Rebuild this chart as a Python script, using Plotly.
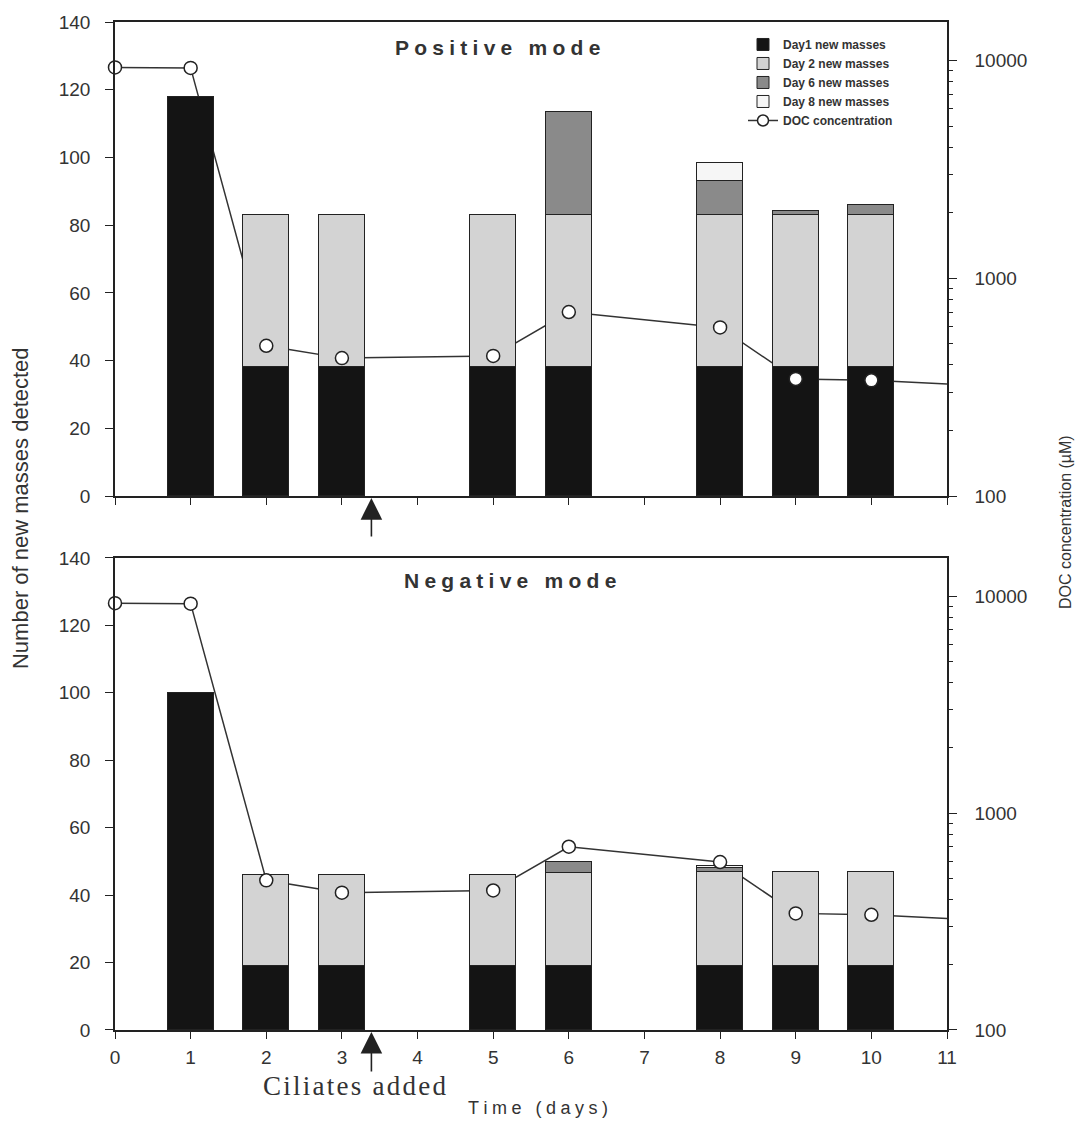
import plotly.graph_objects as go

# ---------------- data ----------------
days_bar = [1, 2, 3, 5, 6, 8, 9, 10]

pos_day1 = [118, 38, 38, 38, 38, 38, 38, 38]
pos_day2 = [None, 45, 45, 45, 45, 45, 45, 45]
pos_day6 = [None, None, None, None, 30.5, 10, 1.2, 3]
pos_day8 = [None, None, None, None, None, 5.5, None, None]

neg_day1 = [100, 19, 19, 19, 19, 19, 19, 19]
neg_day2 = [None, 27, 27, 27, 27.5, 28, 28, 28]
neg_day6 = [None, None, None, None, 3.2, 1.2, None, None]
neg_day8 = [None, None, None, None, None, 0.6, None, None]

days_doc = [0, 1, 2, 3, 5, 6, 8, 9, 10, 11]
doc_conc = [9300, 9250, 490, 430, 440, 700, 595, 345, 340, 327]
doc_has_marker = [1, 1, 1, 1, 1, 1, 1, 1, 1, 0]

series_names = ["Day1 new masses", "Day 2 new masses", "Day 6 new masses", "Day 8 new masses"]
series_colors = ["#141414", "#d3d3d3", "#8a8a8a", "#f6f6f6"]

x_ticks = list(range(0, 12))
left_ticks = list(range(0, 141, 20))
right_ticks = [100, 1000, 10000]
right_minor = [200, 300, 400, 500, 600, 700, 800, 900,
               2000, 3000, 4000, 5000, 6000, 7000, 8000, 9000]

# ---------------- figure ----------------
SANS = "Liberation Sans, Arial, sans-serif"
INK = "#222222"
TXT = "#333333"
LOG_RANGE = [2, 4.177]

fig = go.Figure()

panels = [
    dict(vals=[pos_day1, pos_day2, pos_day6, pos_day8], xa="x", ybase="y", ybar="y2", ymark="y3", legend=True),
    dict(vals=[neg_day1, neg_day2, neg_day6, neg_day8], xa="x2", ybase="y4", ybar="y5", ymark="y6", legend=False),
]

for p in panels:
    for name, color, vals in zip(series_names, series_colors, p["vals"]):
        fig.add_trace(go.Bar(
            x=days_bar, y=vals, name=name, width=0.61,
            marker=dict(color=color, line=dict(color=INK, width=1)),
            xaxis=p["xa"], yaxis=p["ybar"], showlegend=p["legend"],
            legendgroup=name,
        ))
    # line drawn on the base (bottom) layer so it passes behind the bars
    fig.add_trace(go.Scatter(
        x=days_doc, y=doc_conc, mode="lines",
        line=dict(color="#333333", width=1.5),
        xaxis=p["xa"], yaxis=p["ybase"], showlegend=False, cliponaxis=False,
    ))
    # markers on the top layer
    fig.add_trace(go.Scatter(
        x=days_doc, y=doc_conc, mode="markers",
        marker=dict(symbol="circle", size=[13 * m for m in doc_has_marker], color="white",
                    opacity=1, line=dict(color="#222222", width=1.5)),
        xaxis=p["xa"], yaxis=p["ymark"], showlegend=False, cliponaxis=False,
    ))

# legend entry for DOC concentration
fig.add_trace(go.Scatter(
    x=[None], y=[None], mode="lines+markers", name="DOC concentration",
    line=dict(color="#333333", width=1.5),
    marker=dict(symbol="circle", size=11, color="white", opacity=1,
                line=dict(color="#222222", width=1.5)),
    xaxis="x", yaxis="y3", showlegend=True,
))

top_dom = [(1030 - 495) / 1010, 1.0]
bot_dom = [0.0, (1030 - 557) / 1010]

xcommon = dict(range=[0, 11], tickmode="array", tickvals=x_ticks, ticks="outside", ticklen=7,
               tickcolor=INK, showline=True, linecolor=INK, linewidth=1.5, mirror=True,
               showgrid=False, zeroline=False)
logcommon = dict(type="log", range=LOG_RANGE, side="right", tickmode="array", tickvals=right_ticks,
                 ticktext=[str(v) for v in right_ticks], ticks="outside", ticklen=8, tickcolor=INK,
                 showline=True, linecolor=INK, linewidth=1.5, showgrid=False, zeroline=False,
                 ticklabelstandoff=14,
                 tickfont=dict(family=SANS, size=19, color=TXT),
                 minor=dict(tickmode="array", tickvals=right_minor, ticks="outside", ticklen=4,
                            tickcolor=INK, showgrid=False))
lincommon = dict(range=[0, 140], tickmode="array", tickvals=left_ticks, ticks="outside", ticklen=8,
                 tickcolor=INK, showline=True, linecolor=INK, linewidth=1.5, showgrid=False,
                 zeroline=False, side="left", ticklabelstandoff=11,
                 tickfont=dict(family=SANS, size=19, color=TXT))
hidden = dict(type="log", range=LOG_RANGE, visible=False, showgrid=False, zeroline=False)

fig.update_layout(
    width=1075, height=1121,
    margin=dict(l=115, r=128, t=20, b=91),
    paper_bgcolor="white", plot_bgcolor="rgba(0,0,0,0)",
    barmode="stack", bargap=0,
    font=dict(family=SANS, color=INK),
    xaxis=dict(xcommon, anchor="y", showticklabels=False, domain=[0, 1]),
    xaxis2=dict(xcommon, anchor="y4", showticklabels=True, domain=[0, 1],
                ticklabelstandoff=2,
                tickfont=dict(family=SANS, size=19, color=TXT)),
    yaxis=dict(logcommon, domain=top_dom, anchor="x"),
    yaxis2=dict(lincommon, overlaying="y", anchor="x"),
    yaxis3=dict(hidden, overlaying="y", anchor="x"),
    yaxis4=dict(logcommon, domain=bot_dom, anchor="x2"),
    yaxis5=dict(lincommon, overlaying="y4", anchor="x2"),
    yaxis6=dict(hidden, overlaying="y4", anchor="x2"),
    legend=dict(x=(743 - 115) / 832, y=(1030 - 28) / 1010, xanchor="left", yanchor="top",
                traceorder="normal", bgcolor="rgba(0,0,0,0)", borderwidth=0,
                font=dict(family=SANS, size=12, color=TXT, weight="bold"),
                itemwidth=30, tracegroupgap=0),
    showlegend=True,
)

def spaced(s, gap):
    return gap.join(list(s))

annotations = [
    dict(text="<b>" + spaced("Positive mode", "\u2005") + "</b>", xref="paper", yref="paper",
         x=(497 - 115) / 832, y=(1030 - 46) / 1010, xanchor="center", yanchor="middle",
         showarrow=False, font=dict(family=SANS, size=21, color=TXT)),
    dict(text="<b>" + spaced("Negative mode", "\u2005") + "</b>", xref="paper", yref="paper",
         x=(510 - 115) / 832, y=(1030 - 580) / 1010, xanchor="center", yanchor="middle",
         showarrow=False, font=dict(family=SANS, size=21, color=TXT)),
    dict(text="Number of new masses detected", xref="paper", yref="paper",
         x=(20 - 115) / 832, y=(1030 - 507) / 1010, xanchor="center", yanchor="middle",
         textangle=-90, showarrow=False, font=dict(family=SANS, size=22, color=TXT)),
    dict(text="DOC concentration (\u00b5M)", xref="paper", yref="paper",
         x=(1065 - 115) / 832, y=(1030 - 521) / 1010, xanchor="center", yanchor="middle",
         textangle=-90, showarrow=False, font=dict(family=SANS, size=16, color=TXT)),
    dict(text=spaced("Ciliates added", "\u200a"), xref="paper", yref="paper",
         x=(355 - 115) / 832, y=(1030 - 1086) / 1010, xanchor="center", yanchor="middle",
         showarrow=False,
         font=dict(family="Liberation Serif, Times New Roman, serif", size=27, color=TXT)),
    dict(text=spaced("Time (days)", "\u2005"), xref="paper", yref="paper",
         x=(538 - 115) / 832, y=(1030 - 1108) / 1010, xanchor="center", yanchor="middle",
         showarrow=False, font=dict(family=SANS, size=18, color=TXT)),
    dict(text="", xref="x", yref="y2", x=3.39, y=0, ax=0, ay=42, showarrow=True,
         arrowhead=2, arrowsize=2.7, arrowwidth=1.6, arrowcolor=INK, standoff=2),
    dict(text="", xref="x2", yref="y5", x=3.39, y=0, ax=0, ay=43, showarrow=True,
         arrowhead=2, arrowsize=2.7, arrowwidth=1.6, arrowcolor=INK, standoff=2),
]
fig.update_layout(annotations=annotations)

fig.write_html("out.html")
